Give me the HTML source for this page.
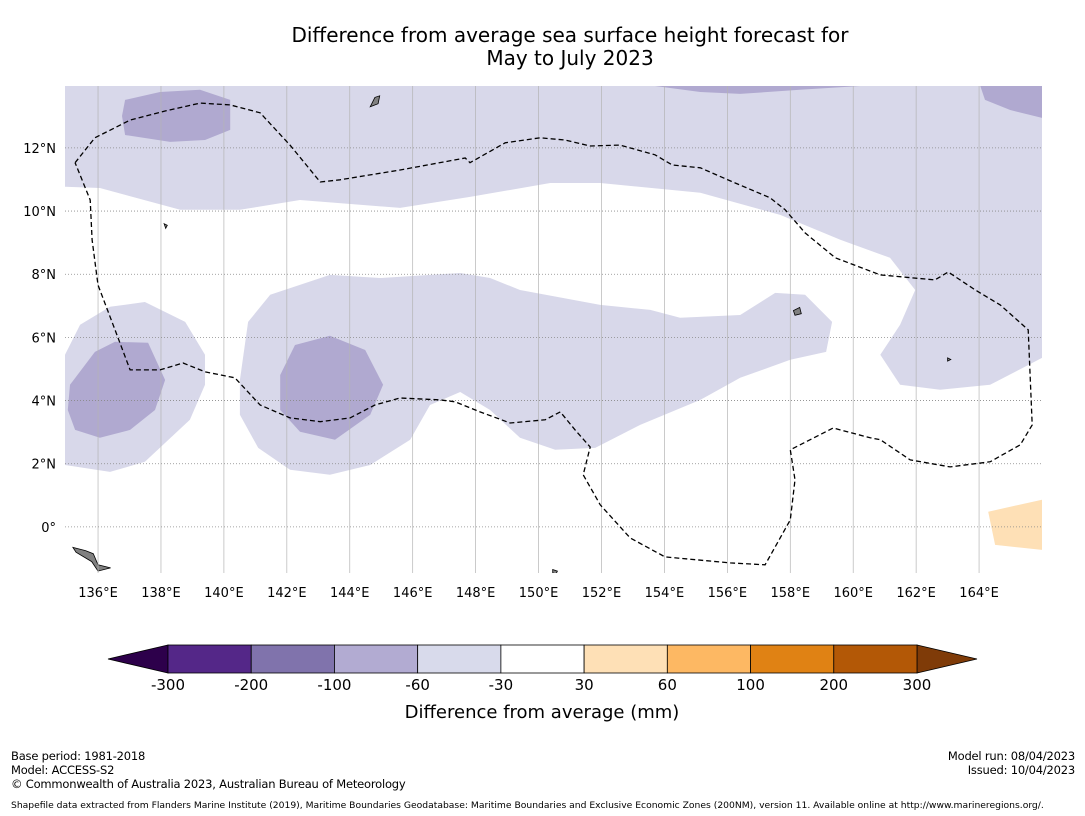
<!DOCTYPE html>
<html><head><meta charset="utf-8">
<style>
body{margin:0;background:#fff;font-family:"Liberation Sans","DejaVu Sans",sans-serif;}
#wrap{position:relative;width:1085px;height:816px;overflow:hidden;background:#fff;}
.t{position:absolute;color:#000;white-space:nowrap;}
</style></head>
<body>
<div id="wrap">
<div class="t" style="left:0;width:1140px;text-align:center;top:24px;font-size:20px;line-height:23px;font-family:'DejaVu Sans',sans-serif;">Difference from average sea surface height forecast for<br>May to July 2023</div>
<svg id="map" width="1085" height="816" style="position:absolute;left:0;top:0" font-family="DejaVu Sans, sans-serif"></svg>
<div class="t" style="left:11px;top:749px;font-size:11.5px;line-height:14px;font-family:'DejaVu Sans',sans-serif;letter-spacing:-0.2px;">Base period: 1981-2018<br>Model: ACCESS-S2</div>
<div class="t" style="left:11px;top:777px;font-size:11.5px;font-family:'DejaVu Sans',sans-serif;letter-spacing:-0.2px;">© Commonwealth of Australia 2023, Australian Bureau of Meteorology</div>
<div class="t" style="right:10px;top:749px;font-size:11.5px;line-height:14px;text-align:right;font-family:'DejaVu Sans',sans-serif;letter-spacing:-0.2px;">Model run: 08/04/2023<br>Issued: 10/04/2023</div>
<div class="t" style="left:11px;top:800px;font-size:9.2px;font-family:'DejaVu Sans',sans-serif;">Shapefile data extracted from Flanders Marine Institute (2019), Maritime Boundaries Geodatabase: Maritime Boundaries and Exclusive Economic Zones (200NM), version 11. Available online at http://www.marineregions.org/.</div>
</div>
<script>
const lonTicks=[136,138,140,142,144,146,148,150,152,154,156,158,160,162,164];
const latTicks=[0,2,4,6,8,10,12];
const cbLabels=["-300","-200","-100","-60","-30","30","60","100","200","300"];
const cbColors=["#542788","#8073ac","#b2abd2","#d8daeb","#ffffff","#fee0b6","#fdb863","#e08214","#b35806"];
const cbLowColor="#2d004b", cbHighColor="#7f3b08";
// contour polygons in [lon,lat]
const bandTop=[[134.95,10.77],[136.06,10.73],[138.61,10.04],[140.51,10.04],[142.42,10.35],[145.6,10.1],[147.82,10.45],[150.37,10.89],[151.96,10.89],[155.14,10.58],[157.68,9.88],[159.59,9.09],[161.17,8.52],[161.97,7.5],[161.49,6.4],[160.86,5.45],[161.49,4.5],[162.76,4.34],[164.35,4.5],[166,5.35],[166,13.96],[134.95,13.96]];
const bandLeft=[[134.95,5.45],[135.43,6.4],[136.38,6.97],[137.49,7.12],[138.77,6.49],[139.4,5.45],[139.4,4.5],[138.92,3.39],[137.49,2.06],[136.38,1.74],[134.95,1.96]];
const bandMid=[[140.51,4.65],[140.77,6.49],[141.47,7.35],[143.37,7.98],[144.96,7.88],[147.51,8.04],[148.46,7.88],[149.41,7.5],[151.96,7.03],[153.55,6.87],[154.5,6.62],[156.41,6.71],[157.52,7.41],[158.47,7.35],[159.33,6.49],[159.14,5.54],[158.0,5.29],[156.41,4.72],[155.14,4.02],[153.23,3.23],[151.8,2.5],[150.53,2.44],[149.41,2.82],[148.46,3.7],[147.51,4.27],[146.55,3.86],[145.92,2.76],[144.65,1.96],[143.37,1.65],[142.1,1.81],[141.09,2.5],[140.51,3.55]];
const darkTL=[[136.86,13.52],[137.97,13.77],[139.24,13.84],[140.2,13.52],[140.2,12.57],[139.4,12.25],[138.29,12.19],[136.86,12.41],[136.76,13.01]];
const darkLeft=[[135.11,4.5],[135.9,5.54],[136.54,5.86],[137.59,5.83],[138.13,4.65],[137.81,3.7],[137.02,3.07],[136.06,2.82],[135.27,3.07],[135.04,3.7]];
const darkMid=[[141.79,4.81],[142.26,5.76],[143.37,6.05],[144.49,5.6],[145.06,4.5],[144.65,3.55],[143.53,2.76],[142.42,3.01],[141.79,3.7]];
const darkTop=[[153.7,13.96],[155.14,13.77],[156.41,13.71],[158.31,13.84],[160.22,13.96]];
const darkTR=[[164.04,13.96],[166,13.96],[166,12.95],[164.99,13.2],[164.19,13.52]];
const orangeR=[[164.29,0.48],[166,0.86],[166,-0.73],[164.51,-0.57]];
const eez=[[135.27,11.53],[135.9,12.32],[137.02,12.88],[138.13,13.17],[139.24,13.42],[140.2,13.36],[141.15,13.11],[142.1,12.09],[143.06,10.92],[143.69,10.99],[145.6,11.3],[147.67,11.68],[147.82,11.53],[148.94,12.16],[150.05,12.32],[150.84,12.25],[151.64,12.06],[152.59,12.09],[153.7,11.78],[154.25,11.46],[155.14,11.37],[156.25,10.89],[157.36,10.42],[157.84,10.04],[158.47,9.31],[159.43,8.52],[160.86,7.98],[162.6,7.82],[163.02,8.07],[163.88,7.5],[164.67,7.03],[165.56,6.24],[165.69,3.23],[165.31,2.6],[164.35,2.06],[163.08,1.9],[161.81,2.12],[160.86,2.76],[160.54,2.82],[159.36,3.13],[158.0,2.44],[158.15,1.49],[158.0,0.22],[157.2,-1.2],[156.09,-1.14],[154.02,-0.95],[152.91,-0.35],[151.96,0.7],[151.42,1.65],[151.64,2.53],[151.16,3.07],[150.69,3.64],[150.21,3.39],[149.1,3.29],[148.14,3.64],[147.35,3.96],[146.87,4.02],[145.6,4.08],[144.8,3.86],[144.01,3.45],[143.06,3.33],[142.1,3.45],[141.15,3.86],[140.35,4.72],[140.2,4.75],[139.4,4.91],[138.7,5.19],[137.97,4.97],[137.02,4.97],[136.54,6.24],[136.0,7.66],[135.81,9.09],[135.75,10.35],[135.27,11.53]];
const islands=[[[144.65,13.3],[144.8,13.6],[144.95,13.65],[144.9,13.4]],[[158.1,6.85],[158.3,6.95],[158.35,6.75],[158.15,6.7]],[[135.2,-0.65],[135.6,-0.75],[135.85,-0.85],[136.0,-1.2],[136.4,-1.3],[136.0,-1.4],[135.8,-1.1],[135.3,-0.8]],[[150.45,-1.35],[150.6,-1.4],[150.55,-1.5],[150.45,-1.45]],[[163.0,5.35],[163.1,5.3],[163.0,5.25]],[[138.1,9.6],[138.2,9.55],[138.15,9.45]]];

const L0=134.95,L1=166,B0=-1.46,B1=13.96, X0=65,X1=1042,Y0=86,Y1=573;
const xs=l=>X0+(l-L0)/(L1-L0)*(X1-X0);
const ys=b=>Y1-(b-B0)/(B1-B0)*(Y1-Y0);
const svg=document.getElementById('map');
const NS='http://www.w3.org/2000/svg';
function mk(tag,attrs){const e=document.createElementNS(NS,tag);for(const k in attrs)e.setAttribute(k,attrs[k]);svg.appendChild(e);return e;}
const pts=a=>a.map(p=>xs(p[0]).toFixed(1)+','+ys(p[1]).toFixed(1)).join(' ');
const defs=mk('defs',{});defs.innerHTML='<clipPath id="mc"><rect x="65" y="86" width="977" height="487"/></clipPath>';
const g=mk('g',{'clip-path':'url(#mc)'});
function poly(a,fill,name){const e=document.createElementNS(NS,'polygon');e.setAttribute('points',pts(a));e.setAttribute('fill',fill);


g.appendChild(e);}
poly(bandTop,'#d8d8ea','contour-minus30-top');
poly(bandLeft,'#d8d8ea','contour-minus30-left');
poly(bandMid,'#d8d8ea','contour-minus30-middle');
poly(darkTL,'#b0a9d0','contour-minus60-top-left');
poly(darkLeft,'#b0a9d0','contour-minus60-left');
poly(darkMid,'#b0a9d0','contour-minus60-middle');
poly(darkTop,'#b0a9d0','contour-minus60-top');
poly(darkTR,'#b0a9d0','contour-minus60-top-right');
poly(orangeR,'#fee0b6','contour-plus30-right');
islands.forEach(a=>{const e=document.createElementNS(NS,'polygon');e.setAttribute('points',pts(a));e.setAttribute('fill','#808080');e.setAttribute('stroke','#000');e.setAttribute('stroke-width','0.8');


g.appendChild(e);});
lonTicks.forEach(l=>{const e=document.createElementNS(NS,'line');const x=xs(l);e.setAttribute('x1',x);e.setAttribute('x2',x);e.setAttribute('y1',Y0);e.setAttribute('y2',Y1);e.setAttribute('stroke','#b4b4b4');e.setAttribute('stroke-width','0.7');


g.appendChild(e);});
latTicks.forEach(b=>{const e=document.createElementNS(NS,'line');const y=ys(b);e.setAttribute('x1',X0);e.setAttribute('x2',X1);e.setAttribute('y1',y);e.setAttribute('y2',y);e.setAttribute('stroke','#888');e.setAttribute('stroke-width','0.8');e.setAttribute('stroke-dasharray','1,2');


g.appendChild(e);});
const pl=document.createElementNS(NS,'polyline');pl.setAttribute('points',pts(eez));pl.setAttribute('fill','none');pl.setAttribute('stroke','#000');pl.setAttribute('stroke-width','1.3');pl.setAttribute('stroke-dasharray','5,3');


g.appendChild(pl);
lonTicks.forEach(l=>{const t=mk('text',{x:xs(l),y:597,'font-size':13,'text-anchor':'middle'});t.textContent=l+'°E';

});
latTicks.forEach(b=>{const t=mk('text',{x:56,y:ys(b)+5,'font-size':13,'text-anchor':'end'});t.textContent=b===0?'0°':b+'°N';

});
const cx0=168,cx1=917,cy0=645,cy1=673,bw=(cx1-cx0)/cbColors.length;
const lt=mk('polygon',{points:`108,659 ${cx0},${cy0} ${cx0},${cy1}`,fill:cbLowColor,stroke:'#000','stroke-width':0.8});


const rt=mk('polygon',{points:`977,659 ${cx1},${cy0} ${cx1},${cy1}`,fill:cbHighColor,stroke:'#000','stroke-width':0.8});


cbColors.forEach((c,i)=>{const r=mk('rect',{x:cx0+i*bw,y:cy0,width:bw,height:cy1-cy0,fill:c,stroke:'#000','stroke-width':0.8});

});
cbLabels.forEach((s,i)=>{const t=mk('text',{x:cx0+i*bw,y:690,'font-size':15,'text-anchor':'middle'});t.textContent=s;

});
const ct=mk('text',{x:542,y:718,'font-size':18,'text-anchor':'middle'});ct.textContent='Difference from average (mm)';


</script>
</body></html>
